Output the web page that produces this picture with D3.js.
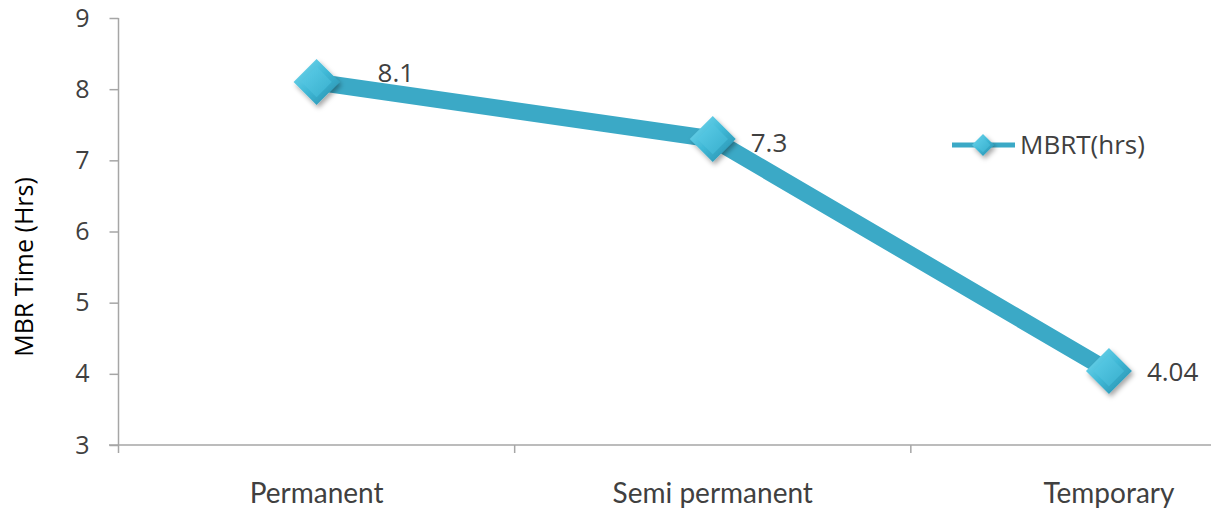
<!DOCTYPE html>
<html><head><meta charset="utf-8">
<script src="https://cdn.jsdelivr.net/npm/d3@7"></script>
<style>html,body{margin:0;padding:0;background:#fff;overflow:hidden}</style>
</head><body>
<script>
const categories = ["Permanent", "Semi permanent", "Temporary"];
const values = [8.1, 7.3, 4.04];
const valueLabels = ["8.1", "7.3", "4.04"];
const yTicks = [3, 4, 5, 6, 7, 8, 9];
const seriesName = "MBRT(hrs)";
const yTitle = "MBR Time (Hrs)";

const W = 1211, H = 510;
const svg = d3.select("body").append("svg").attr("width", W).attr("height", H);
const defs = svg.append("defs");
const g1 = defs.append("linearGradient").attr("id","dOuter").attr("x1","0").attr("y1","0").attr("x2","1").attr("y2","1");
g1.append("stop").attr("offset","0").attr("stop-color","#7adbf0");
g1.append("stop").attr("offset","0.5").attr("stop-color","#3fb8d6");
g1.append("stop").attr("offset","1").attr("stop-color","#258aa8");
const g2 = defs.append("linearGradient").attr("id","dInner").attr("x1","0").attr("y1","0").attr("x2","1").attr("y2","1");
g2.append("stop").attr("offset","0").attr("stop-color","#5ccde8");
g2.append("stop").attr("offset","1").attr("stop-color","#38afcd");
const f = defs.append("filter").attr("id","shadow").attr("x","-50%").attr("y","-50%").attr("width","200%").attr("height","200%");
f.append("feDropShadow").attr("dx",2).attr("dy",3).attr("stdDeviation",2.5).attr("flood-color","#000").attr("flood-opacity",0.35);

const x = d3.scaleBand().domain(categories).range([118.5, 1307]).padding(0);
const y = d3.scaleLinear().domain([3, 9]).range([445, 18]);
const cx = c => x(c) + x.bandwidth() / 2;

const axisColor = "#a6a6a6";
const txt = "#404040";
// Y axis
const yAxis = svg.append("g").attr("transform","translate(118.5,0)")
  .call(d3.axisLeft(y).tickValues(yTicks).tickSize(9).tickPadding(20).tickFormat(d3.format("d")));
yAxis.select(".domain").attr("stroke", axisColor).attr("stroke-width",1.5).attr("d","M0,18V453");
yAxis.selectAll(".tick line").attr("stroke", axisColor).attr("stroke-width",1.5);
yAxis.selectAll(".tick text").attr("fill",txt).style("font-family","'Open Sans'").style("font-size","25px");

// X axis
const bounds = categories.map(c => x(c)).concat([x.range()[1]]);
const xAxis = svg.append("g").attr("transform","translate(0,445)");
xAxis.append("line").attr("x1",109).attr("x2",1307).attr("stroke",axisColor).attr("stroke-width",1.5);
xAxis.selectAll("line.t").data(bounds.slice(1)).join("line").attr("class","t")
  .attr("x1",d=>d).attr("x2",d=>d).attr("y1",0).attr("y2",8).attr("stroke",axisColor).attr("stroke-width",1.5);
xAxis.selectAll("text").data(categories).join("text")
  .attr("x", d => cx(d)).attr("y", 58).attr("text-anchor","middle")
  .attr("fill",txt).style("font-family","Lato").style("font-size","28px").text(d => d);

// Y title
svg.append("text").attr("transform","translate(33,267) rotate(-90)").attr("text-anchor","middle")
  .attr("fill","#000").style("font-family","'Open Sans'").style("font-size","25px").text(yTitle);

// Line
const pts = categories.map((c,i) => [cx(c), y(values[i])]);
svg.append("path").attr("d", d3.line()(pts)).attr("fill","none")
  .attr("stroke","#3ba9c6").attr("stroke-width",17).attr("stroke-linejoin","round");

function diamond(sel, px, py, r) {
  const gg = sel.append("g").attr("transform",`translate(${px},${py})`);
  gg.append("path").attr("d",`M0,${-r}L${r},0L0,${r}L${-r},0Z`).attr("fill","url(#dOuter)").attr("filter","url(#shadow)");
  const ri = r*0.66;
  gg.append("path").attr("d",`M0,${-ri}L${ri},0L0,${ri}L${-ri},0Z`).attr("fill","url(#dInner)");
  return gg;
}
pts.forEach(p => diamond(svg, p[0], p[1], 23));

// Value labels (first label sits a little further out, as in the source chart)
const labelNudge = [[23, -9], [0, 4], [0, 1]];
svg.selectAll("text.val").data(pts).join("text").attr("class","val")
  .attr("x", (d,i) => d[0] + 38 + labelNudge[i][0]).attr("y", (d,i) => d[1] + labelNudge[i][1]).attr("dy","0.35em")
  .attr("fill",txt).style("font-family","'Open Sans'").style("font-size","26px")
  .text((d,i) => valueLabels[i]);

// Legend
const lg = svg.append("g").attr("transform","translate(952,145)");
lg.append("line").attr("x1",0).attr("x2",63).attr("stroke","#3ba9c6").attr("stroke-width",5);
diamond(lg, 31, 0, 11);
lg.append("text").attr("x",68).attr("y",0).attr("dy","0.35em").attr("fill",txt)
  .style("font-family","'Open Sans'").style("font-size","26px").text(seriesName);
</script>
</body></html>
